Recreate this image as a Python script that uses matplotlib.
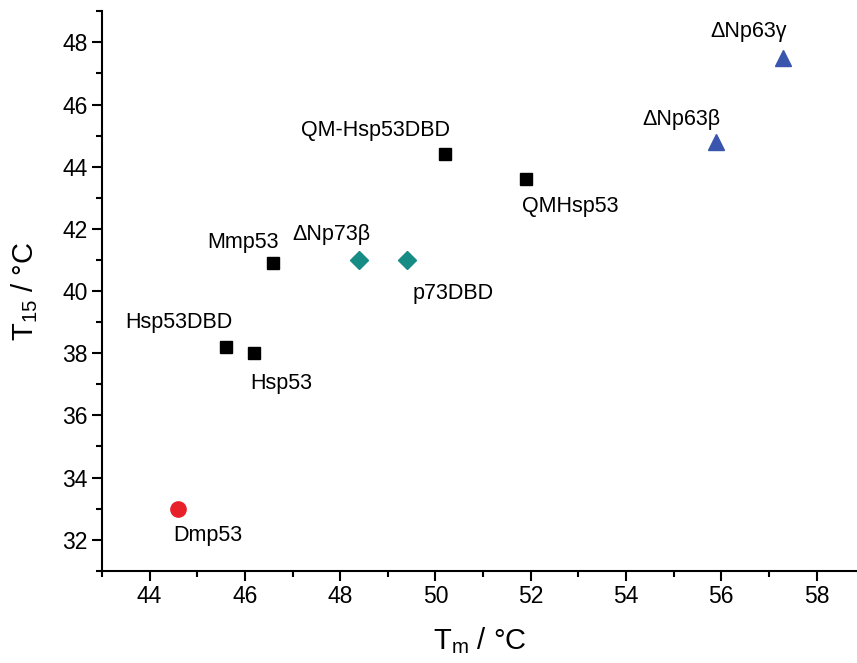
import matplotlib
matplotlib.use('Agg')
import matplotlib.pyplot as plt
from matplotlib.ticker import MultipleLocator

plt.rcParams['font.family'] = ['Liberation Sans', 'DejaVu Sans']
plt.rcParams['mathtext.fontset'] = 'custom'
plt.rcParams['mathtext.rm'] = 'Liberation Sans'
plt.rcParams['mathtext.it'] = 'Liberation Sans'

# p53 family members: Tm vs T15
sq_names = ['Hsp53DBD', 'Hsp53', 'Mmp53', 'QM-Hsp53DBD', 'QMHsp53']
sq_tm = [45.6, 46.2, 46.6, 50.2, 51.9]
sq_t15 = [38.2, 38.0, 40.9, 44.4, 43.6]

dm_names = ['\u0394Np73\u03b2', 'p73DBD']
dm_tm = [48.4, 49.4]
dm_t15 = [41.0, 41.0]

tri_names = ['\u0394Np63\u03b2', '\u0394Np63\u03b3']
tri_tm = [55.9, 57.3]
tri_t15 = [44.8, 47.5]

ci_names = ['Dmp53']
ci_tm = [44.6]
ci_t15 = [33.0]

# label offsets in points
offsets = {
    'Hsp53DBD': (-34, 18), 'Hsp53': (19, -22), 'Mmp53': (-22, 15),
    'QM-Hsp53DBD': (-50, 17), 'QMHsp53': (32, -20),
    '\u0394Np73\u03b2': (-20, 18), 'p73DBD': (33, -24),
    '\u0394Np63\u03b2': (-25, 16), '\u0394Np63\u03b3': (-25, 19),
    'Dmp53': (21, -19),
}

fig = plt.figure(figsize=(8.57, 6.63), dpi=100)
ax = fig.add_axes([0.119, 0.139, 0.881, 0.844])

ax.plot(sq_tm, sq_t15, 's', color='black', ms=9, ls='none')
ax.plot(dm_tm, dm_t15, 'D', color='#168c84', ms=9, ls='none')
ax.plot(tri_tm, tri_t15, '^', color='#3a55ad', ms=12, ls='none')
ax.plot(ci_tm, ci_t15, 'o', color='#e8202a', ms=11, ls='none')

for names, xs, ys in [(sq_names, sq_tm, sq_t15), (dm_names, dm_tm, dm_t15),
                      (tri_names, tri_tm, tri_t15), (ci_names, ci_tm, ci_t15)]:
    for n, x, y in zip(names, xs, ys):
        ax.annotate(n, (x, y), xytext=offsets[n], textcoords='offset points',
                    ha='center', va='center', fontsize=15.5)

ax.set_xlim(43, 58.85)
ax.set_ylim(31, 49)
ax.xaxis.set_major_locator(MultipleLocator(2))
ax.xaxis.set_minor_locator(MultipleLocator(1))
ax.yaxis.set_major_locator(MultipleLocator(2))
ax.yaxis.set_minor_locator(MultipleLocator(1))
ax.tick_params(which='major', direction='out', length=7, width=1.5, labelsize=16.5)
ax.tick_params(which='minor', direction='out', length=4, width=1.5)

ax.spines['top'].set_visible(False)
ax.spines['right'].set_visible(False)
ax.spines['left'].set_linewidth(1.5)
ax.spines['bottom'].set_linewidth(1.5)

ax.set_xlabel('T$_{\\mathrm{m}}$ / \u00b0C', fontsize=21, labelpad=12)
ax.set_ylabel('T$_{\\mathrm{15}}$ / \u00b0C', fontsize=21, labelpad=16)

fig.savefig('out.png', dpi=100)
